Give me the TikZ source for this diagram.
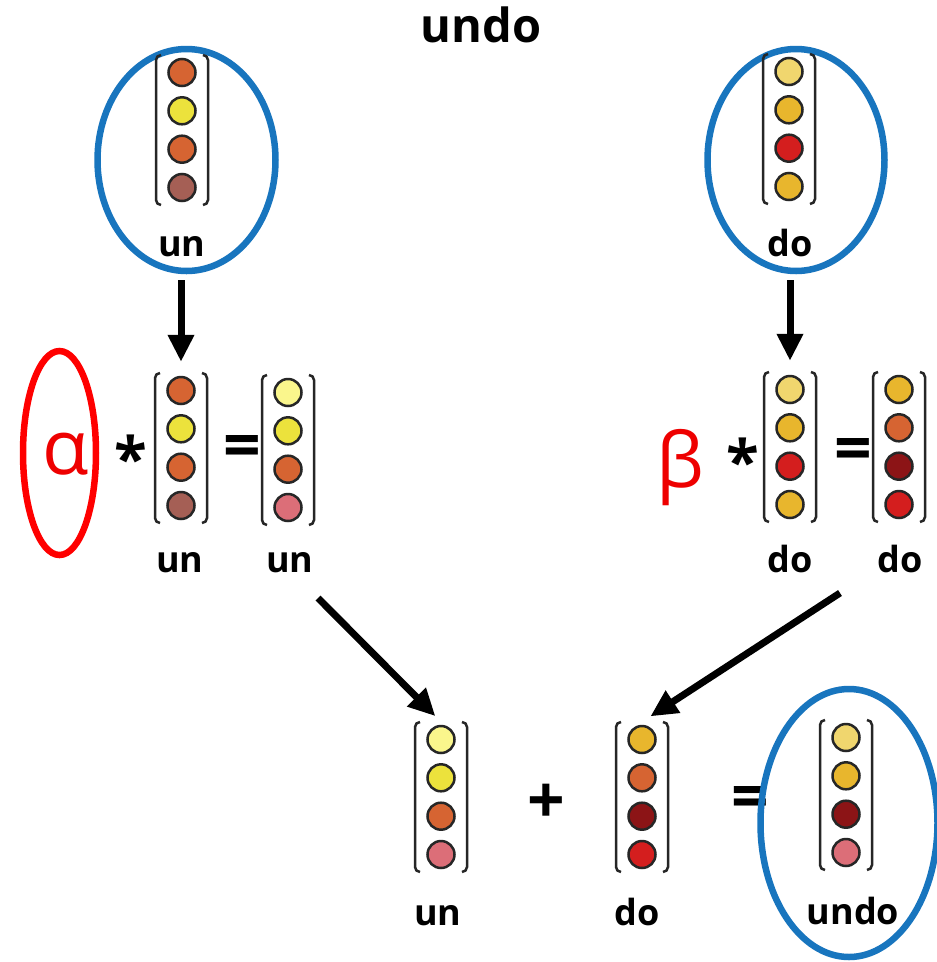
\documentclass[tikz,border=0pt]{standalone}
\usepackage{fontspec}
\setmainfont{Open Sans}
\usetikzlibrary{shapes.geometric,arrows.meta}
\definecolor{corange}{RGB}{214,100,50}
\definecolor{cyellow}{RGB}{236,226,60}
\definecolor{clyellow}{RGB}{250,246,140}
\definecolor{cbrown}{RGB}{165,95,85}
\definecolor{cpink}{RGB}{220,110,120}
\definecolor{clgold}{RGB}{240,214,110}
\definecolor{cgold}{RGB}{232,182,45}
\definecolor{cred}{RGB}{212,30,30}
\definecolor{cdred}{RGB}{140,20,22}
\definecolor{ellblue}{RGB}{24,117,190}
\definecolor{greekred}{RGB}{238,0,0}
\newcommand\vecnode[7]{%
  \node[vbox] (#1) at (#2,#3) {};
  \begin{scope}[shift={(#2,#3)}]
    \draw[bracketline] (-21,-75) -- (-26,-75) -- (-26,75) -- (-21,75);
    \draw[bracketline] (21,-75) -- (26,-75) -- (26,75) -- (21,75);
    \fill[fill=#4, draw=black!85, line width=2.5pt] (0,-57.5) circle (13.5);
    \fill[fill=#5, draw=black!85, line width=2.5pt] (0,-19.2) circle (13.5);
    \fill[fill=#6, draw=black!85, line width=2.5pt] (0,19.2) circle (13.5);
    \fill[fill=#7, draw=black!85, line width=2.5pt] (0,57.5) circle (13.5);
  \end{scope}}
\tikzset{
  vbox/.style={inner sep=0pt, minimum width=54pt, minimum height=150pt},
  bracketline/.style={draw=black!85, line width=2.5pt, rounded corners=5pt},
  blueell/.style={ellipse, draw=ellblue, line width=6.5pt, inner sep=0pt},
  redell/.style={ellipse, draw=red, line width=6.5pt, inner sep=0pt},
  lbl/.style={anchor=base, inner sep=0pt, font=\fontsize{36}{40}\selectfont\bfseries},
  ttl/.style={anchor=base, inner sep=0pt, font=\fontsize{47}{50}\selectfont\bfseries},
  greek/.style={inner sep=0pt, text=greekred, font=\fontsize{76}{80}\selectfont},
  op/.style={inner sep=0pt, font=\fontsize{60}{60}\selectfont\bfseries},
  bigop/.style={inner sep=0pt, font=\fontsize{66}{70}\selectfont\bfseries},
  arr/.style={line width=7pt, -{Triangle[length=27pt,width=25pt]}}
}
\begin{document}
\begin{tikzpicture}[x=1pt,y=-1pt]
\useasboundingbox[fill=white] (0,0) rectangle (937,962);
% title
\node[ttl] (title) at (481,42) {undo};
% top row
\node[blueell, minimum width=178pt, minimum height=222pt] (e1) at (186.5,160) {};
\node[blueell, minimum width=177pt, minimum height=222pt] (e2) at (796,160) {};
\vecnode{v1}{182}{130}{corange}{cyellow}{corange}{cbrown}
\vecnode{v2}{789}{129}{clgold}{cgold}{cred}{cgold}
\node[lbl] (l1) at (182,256) {un};
\node[lbl] (l2) at (790,256) {do};
% middle left
\node[redell, minimum width=73pt, minimum height=204pt] (ea) at (59.5,453) {};
\node[greek] (alpha) at (66,454) {α};
\node[op] (st1) at (131,458) {*};
\vecnode{v3}{181}{448}{corange}{cyellow}{corange}{cbrown}
\node[bigop] (eq1) at (242,452) {=};
\vecnode{v4}{288}{450}{clyellow}{cyellow}{corange}{cpink}
\node[lbl] (l3) at (180,572) {un};
\node[lbl] (l4) at (290,572) {un};
% middle right
\node[greek] (beta) at (680,468) {β};
\node[op] (st2) at (743,461) {*};
\vecnode{v5}{790}{447}{clgold}{cgold}{cred}{cgold}
\node[bigop] (eq2) at (853,455) {=};
\vecnode{v6}{899}{447}{cgold}{corange}{cdred}{cred}
\node[lbl] (l5) at (790,572) {do};
\node[lbl] (l6) at (900,572) {do};
% bottom
\vecnode{v7}{441}{797}{clyellow}{cyellow}{corange}{cpink}
\node[bigop] (plus) at (546.5,803.5) {+};
\vecnode{v8}{642}{797}{cgold}{corange}{cdred}{cred}
\node[bigop] (eq3) at (750,803) {=};
\node[blueell, minimum width=177pt, minimum height=268pt] (e3) at (849,823) {};
\vecnode{v9}{846}{795}{clgold}{cgold}{cdred}{cpink}
\node[lbl] (l7) at (438,925) {un};
\node[lbl] (l8) at (637,925) {do};
\node[lbl] (l9) at (853,924) {undo};
% arrows
\draw[arr, shorten >=11pt] ([yshift=-6pt]e1.south -| v3.north) -- (v3.north);
\draw[arr, shorten >=11pt] ([yshift=-6pt]e2.south -| v5.north) -- (v5.north);
\coordinate (s1) at (318,598);
\coordinate (s2) at (840,593);
\draw[arr, shorten >=8pt] (s1) -- (v7.north);
\draw[arr, shorten >=10pt] (s2) -- (v8.north);
\end{tikzpicture}
\end{document}
